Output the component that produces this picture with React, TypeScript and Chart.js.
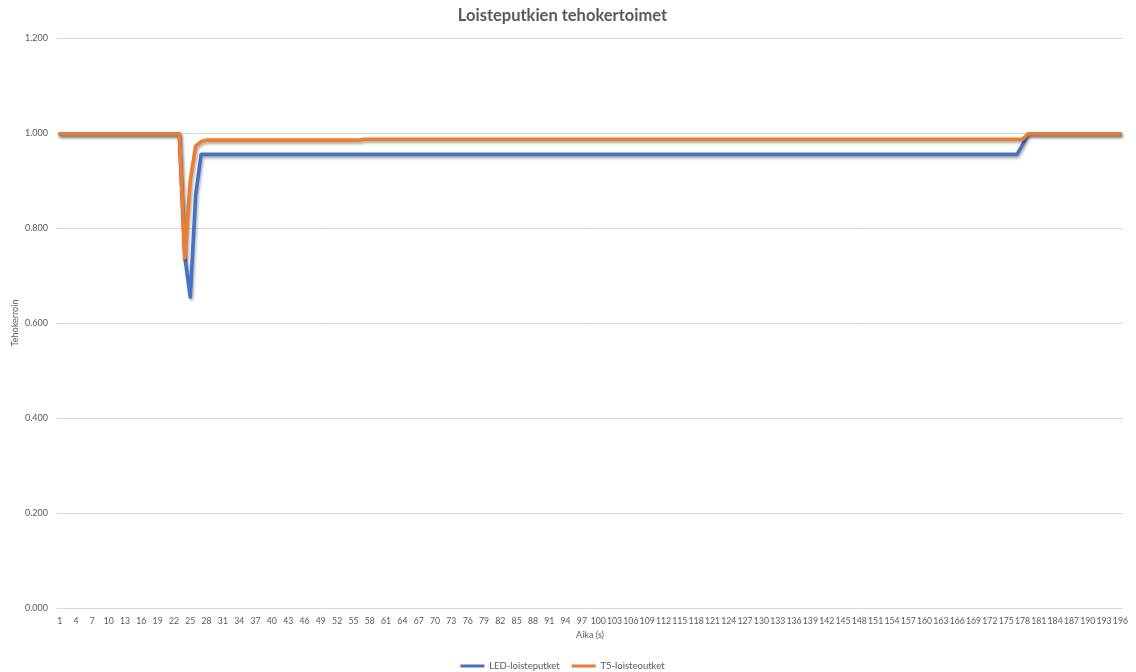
import React, { useEffect, useRef } from "react";
import { Chart, registerables } from "chart.js";

Chart.register(...registerables);

// Time axis: one category per second, 1 … 196
const seconds: number[] = Array.from({ length: 196 }, (_, i) => i + 1);

// Power factor of the LED tubes, per second
const ledValues: number[] = [
  0.998, 0.998, 0.998, 0.998, 0.998, 0.998, 0.998, 0.998, 0.998, 0.998,
  0.998, 0.998, 0.998, 0.998, 0.998, 0.998, 0.998, 0.998, 0.998, 0.998,
  0.998, 0.998, 0.998, 0.74, 0.655, 0.87, 0.955, 0.955, 0.955, 0.955,
  0.955, 0.955, 0.955, 0.955, 0.955, 0.955, 0.955, 0.955, 0.955, 0.955,
  0.955, 0.955, 0.955, 0.955, 0.955, 0.955, 0.955, 0.955, 0.955, 0.955,
  0.955, 0.955, 0.955, 0.955, 0.955, 0.955, 0.955, 0.955, 0.955, 0.955,
  0.955, 0.955, 0.955, 0.955, 0.955, 0.955, 0.955, 0.955, 0.955, 0.955,
  0.955, 0.955, 0.955, 0.955, 0.955, 0.955, 0.955, 0.955, 0.955, 0.955,
  0.955, 0.955, 0.955, 0.955, 0.955, 0.955, 0.955, 0.955, 0.955, 0.955,
  0.955, 0.955, 0.955, 0.955, 0.955, 0.955, 0.955, 0.955, 0.955, 0.955,
  0.955, 0.955, 0.955, 0.955, 0.955, 0.955, 0.955, 0.955, 0.955, 0.955,
  0.955, 0.955, 0.955, 0.955, 0.955, 0.955, 0.955, 0.955, 0.955, 0.955,
  0.955, 0.955, 0.955, 0.955, 0.955, 0.955, 0.955, 0.955, 0.955, 0.955,
  0.955, 0.955, 0.955, 0.955, 0.955, 0.955, 0.955, 0.955, 0.955, 0.955,
  0.955, 0.955, 0.955, 0.955, 0.955, 0.955, 0.955, 0.955, 0.955, 0.955,
  0.955, 0.955, 0.955, 0.955, 0.955, 0.955, 0.955, 0.955, 0.955, 0.955,
  0.955, 0.955, 0.955, 0.955, 0.955, 0.955, 0.955, 0.955, 0.955, 0.955,
  0.955, 0.955, 0.955, 0.955, 0.955, 0.955, 0.955, 0.975, 0.998, 0.998,
  0.998, 0.998, 0.998, 0.998, 0.998, 0.998, 0.998, 0.998, 0.998, 0.998,
  0.998, 0.998, 0.998, 0.998, 0.998, 0.998,
];

// Power factor of the T5 tubes, per second
const t5Values: number[] = [
  0.998, 0.998, 0.998, 0.998, 0.998, 0.998, 0.998, 0.998, 0.998, 0.998,
  0.998, 0.998, 0.998, 0.998, 0.998, 0.998, 0.998, 0.998, 0.998, 0.998,
  0.998, 0.998, 0.998, 0.737, 0.9, 0.973, 0.982, 0.985, 0.985, 0.985,
  0.985, 0.985, 0.985, 0.985, 0.985, 0.985, 0.985, 0.985, 0.985, 0.985,
  0.985, 0.985, 0.985, 0.985, 0.985, 0.985, 0.985, 0.985, 0.985, 0.985,
  0.985, 0.985, 0.985, 0.985, 0.985, 0.985, 0.987, 0.987, 0.987, 0.987,
  0.987, 0.987, 0.987, 0.987, 0.987, 0.987, 0.987, 0.987, 0.987, 0.987,
  0.987, 0.987, 0.987, 0.987, 0.987, 0.987, 0.987, 0.987, 0.987, 0.987,
  0.987, 0.987, 0.987, 0.987, 0.987, 0.987, 0.987, 0.987, 0.987, 0.987,
  0.987, 0.987, 0.987, 0.987, 0.987, 0.987, 0.987, 0.987, 0.987, 0.987,
  0.987, 0.987, 0.987, 0.987, 0.987, 0.987, 0.987, 0.987, 0.987, 0.987,
  0.987, 0.987, 0.987, 0.987, 0.987, 0.987, 0.987, 0.987, 0.987, 0.987,
  0.987, 0.987, 0.987, 0.987, 0.987, 0.987, 0.987, 0.987, 0.987, 0.987,
  0.987, 0.987, 0.987, 0.987, 0.987, 0.987, 0.987, 0.987, 0.987, 0.987,
  0.987, 0.987, 0.987, 0.987, 0.987, 0.987, 0.987, 0.987, 0.987, 0.987,
  0.987, 0.987, 0.987, 0.987, 0.987, 0.987, 0.987, 0.987, 0.987, 0.987,
  0.987, 0.987, 0.987, 0.987, 0.987, 0.987, 0.987, 0.987, 0.987, 0.987,
  0.987, 0.987, 0.987, 0.987, 0.987, 0.987, 0.987, 0.987, 0.998, 0.998,
  0.998, 0.998, 0.998, 0.998, 0.998, 0.998, 0.998, 0.998, 0.998, 0.998,
  0.998, 0.998, 0.998, 0.998, 0.998, 0.998,
];

const yTicks = { min: 0, max: 1.2, step: 0.2 };

const TEXT = "#595959";
const GRID = "#d9d9d9";
const BLUE = "#4472C4";
const ORANGE = "#ED7D31";
const FONT = "Lato, 'Open Sans', sans-serif";

// Soft drop shadow under the series lines
const lineShadow = {
  id: "lineShadow",
  beforeDatasetDraw(chart: Chart) {
    const ctx = chart.ctx;
    ctx.save();
    ctx.shadowColor = "rgba(0,0,0,0.35)";
    ctx.shadowBlur = 3;
    ctx.shadowOffsetX = 1;
    ctx.shadowOffsetY = 2;
  },
  afterDatasetDraw(chart: Chart) {
    chart.ctx.restore();
  },
};

export default function App() {
  const canvasRef = useRef<HTMLCanvasElement | null>(null);

  useEffect(() => {
    if (!canvasRef.current) return;
    const chart = new Chart(canvasRef.current, {
      type: "line",
      data: {
        labels: seconds.map(String),
        datasets: [
          {
            label: "LED-loisteputket",
            data: ledValues,
            borderColor: BLUE,
            backgroundColor: BLUE,
            borderWidth: 3.6,
            pointRadius: 0,
            tension: 0,
            borderJoinStyle: "round",
            borderCapStyle: "round",
            order: 1,
          },
          {
            label: "T5-loisteoutket",
            data: t5Values,
            borderColor: ORANGE,
            backgroundColor: ORANGE,
            borderWidth: 3.6,
            pointRadius: 0,
            tension: 0,
            borderJoinStyle: "round",
            borderCapStyle: "round",
            order: 0,
          },
        ],
      },
      options: {
        responsive: false,
        animation: false,
        devicePixelRatio: 1,
        layout: { padding: { left: 0, right: 11, top: 0, bottom: -8.75 } },
        plugins: {
          title: {
            display: true,
            text: "Loisteputkien tehokertoimet",
            color: TEXT,
            font: { family: FONT, size: 16.5, weight: "bold" },
            padding: { top: 5.6, bottom: 12.6 },
          },
          legend: {
            position: "bottom",
            labels: {
              color: TEXT,
              font: { family: FONT, size: 9.5 },
              boxWidth: 24,
              boxHeight: 3,
              padding: 12,
              sort: (a: any, b: any) => a.datasetIndex - b.datasetIndex,
              generateLabels: (c: Chart) =>
                Chart.defaults.plugins.legend.labels
                  .generateLabels(c)
                  .map((item: any) => ({ ...item, lineWidth: 0 })),
            },
          },
          tooltip: { enabled: false },
        },
        scales: {
          x: {
            type: "category",
            offset: true,
            grid: { display: false, drawTicks: false },
            border: { display: false },
            ticks: {
              color: TEXT,
              font: { family: FONT, size: 8.7 },
              padding: 8,
              autoSkip: false,
              maxRotation: 0,
              minRotation: 0,
              callback: (_v: any, index: number) =>
                index % 3 === 0 ? String(seconds[index]) : "",
            },
            title: {
              display: true,
              text: "Aika (s)",
              color: TEXT,
              font: { family: FONT, size: 9 },
              padding: { top: 0, bottom: 9 },
            },
            afterFit: (scale: any) => {
              scale.height = 41.25;
            },
          },
          y: {
            min: yTicks.min,
            max: yTicks.max,
            grid: { color: GRID, lineWidth: 1, drawTicks: false },
            border: { display: false },
            ticks: {
              stepSize: yTicks.step,
              color: TEXT,
              font: { family: FONT, size: 9 },
              padding: 9,
              callback: (v: any) => Number(v).toFixed(3),
            },
            title: {
              display: true,
              text: "Tehokerroin",
              color: TEXT,
              font: { family: FONT, size: 9 },
              padding: { top: 9.6, bottom: 0 },
            },
            afterFit: (scale: any) => {
              scale.width = 57;
            },
          },
        },
      },
      plugins: [lineShadow],
    });
    return () => chart.destroy();
  }, []);

  return (
    <canvas
      ref={canvasRef}
      width={1136}
      height={672}
      style={{ position: "absolute", left: 0, top: 0, display: "block" }}
    />
  );
}
